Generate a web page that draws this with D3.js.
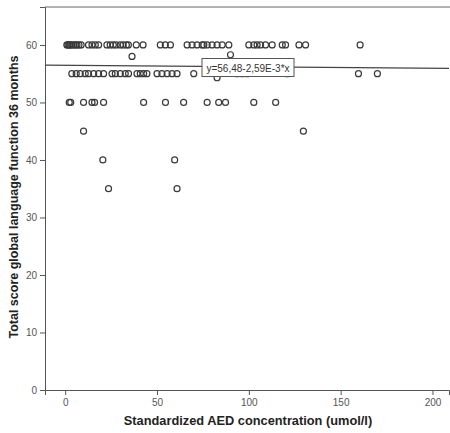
<!DOCTYPE html>
<html><head><meta charset="utf-8">
<script src="https://cdn.jsdelivr.net/npm/d3@7"></script>
<style>body{margin:0;background:#fff}svg{display:block}</style>
</head><body>
<script>
const row60 = [0.9,1.5,2.2,2.7,3.5,4.5,5.5,6.4,7.5,8.7,12.7,14.6,16.4,18.2,22.7,24.5,26.2,27.8,30,31.6,33.3,34.4,38.7,42.4,51.8,54.5,57.3,66.4,69.1,71.8,74.6,75.5,77.3,80,82.7,85.5,89.1,100,102.7,104.5,106.4,109.1,112.7,118.2,120,127.3,130.9,160.6];
const row55 = [3.6,6,8.2,10.9,12.7,15.5,18.2,20.9,25.5,27.3,30,32.7,34.5,39.1,40.9,42.7,44.5,50,52.7,55.5,58.2,60.9,70,93.7,96.4,99.1,120.9,159.7,170];
const row50 = [2.2,3,10,14.6,16,20.9,42.7,54.6,64.5,77.3,83.6,87.3,102.7,114.6];
const row45 = [10,129.7];
const row40 = [20.5,59.6];
const row35 = [23.6,60.9];
const others = [[36.4,58],[90,58.3],[82.7,54.3]];
const xTicks = [0,50,100,150,200];
const yTicks = [0,10,20,30,40,50,60];
const intercept = 56.48, slope = -2.59e-3;
const fitLabel = "y=56,48-2,59E-3*x";

const points = [];
[[row60,60],[row55,55],[row50,50],[row45,45],[row40,40],[row35,35]].forEach(([xs,y])=>xs.forEach(x=>points.push([x,y])));
others.forEach(p=>points.push(p));

const W=450,H=433;
const svg=d3.select("body").append("svg").attr("width",W).attr("height",H);
const x=d3.scaleLinear().domain([-11,209]).range([45,449]);
const y=d3.scaleLinear().domain([0,66.6]).range([390,7]);

// top border
svg.append("line").attr("x1",45).attr("x2",450).attr("y1",7).attr("y2",7)
  .attr("stroke","#666").attr("stroke-width",1);

const font="Liberation Sans, Arial, sans-serif";
const yAx=svg.append("g").attr("transform","translate(45,0)")
  .call(d3.axisLeft(y).tickValues(yTicks).tickSize(5).tickPadding(3));
const xAx=svg.append("g").attr("transform","translate(0,390)")
  .call(d3.axisBottom(x).tickValues(xTicks).tickSize(5).tickPadding(4));
[yAx,xAx].forEach(g=>{
  g.select(".domain").attr("stroke","#555");
  g.selectAll(".tick line").attr("stroke","#555");
  g.selectAll(".tick text").attr("fill","#555").style("font-family",font).style("font-size","10px");
});

// fit line
const x0=-11,x1=209;
svg.append("line").attr("x1",x(x0)).attr("x2",x(x1))
  .attr("y1",y(intercept+slope*x0)).attr("y2",y(intercept+slope*x1))
  .attr("stroke","#444").attr("stroke-width",1.2);

// points
svg.append("g").selectAll("circle").data(points).join("circle")
  .attr("cx",d=>x(d[0])).attr("cy",d=>y(d[1])).attr("r",3)
  .attr("fill","none").attr("stroke","#3a3a3a").attr("stroke-width",1.2);

// label box
const lb=svg.append("g");
lb.append("rect").attr("x",202).attr("y",58.5).attr("width",92).attr("height",18)
  .attr("fill","#fff").attr("stroke","#555").attr("stroke-width",1);
lb.append("text").attr("x",248).attr("y",71.5).attr("text-anchor","middle")
  .style("font-family",font).style("font-size","10px").attr("fill","#333").text(fitLabel);

// titles
svg.append("text").attr("transform","translate(18,197) rotate(-90)").attr("text-anchor","middle")
  .style("font-family",font).style("font-size","12.5px").style("font-weight","bold").attr("fill","#222")
  .text("Total score global language function 36 months");
svg.append("text").attr("x",248).attr("y",425).attr("text-anchor","middle")
  .style("font-family",font).style("font-size","12.8px").style("font-weight","bold").attr("fill","#222")
  .text("Standardized AED concentration (umol/l)");
</script>
</body></html>
